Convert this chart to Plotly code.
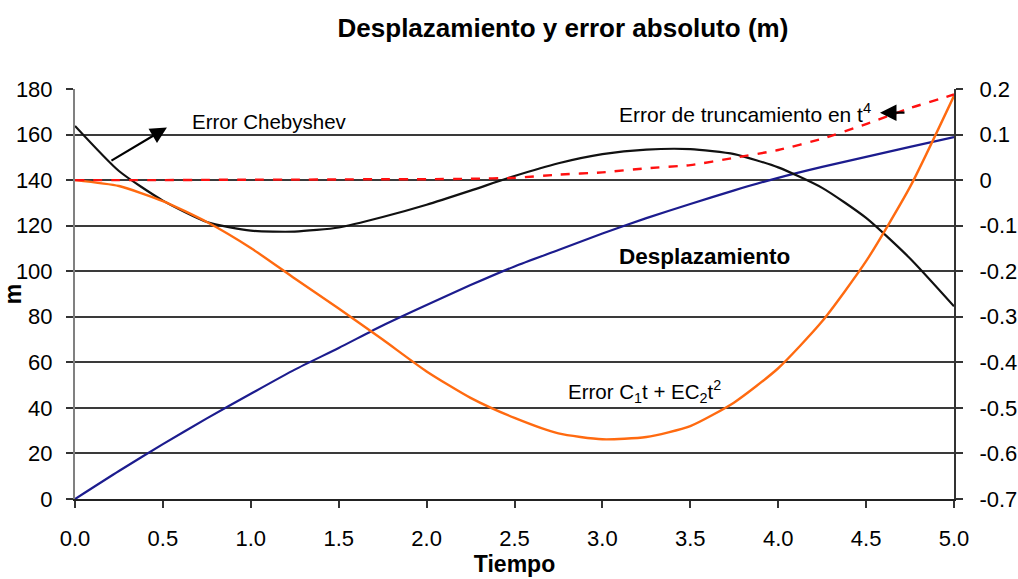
import plotly.graph_objects as go

# ---- data ----
tiempo = [0.0, 0.25, 0.5, 0.75, 1.0, 1.25, 1.5, 1.75, 2.0, 2.25, 2.5,
          2.75, 3.0, 3.25, 3.5, 3.75, 4.0, 4.25, 4.5, 4.75, 5.0]
desplazamiento = [0.0, 12.3, 24.1, 35.4, 46.2, 56.8, 66.3, 76.2, 85.2, 93.9, 102.1,
                  109.3, 116.6, 123.3, 129.5, 135.5, 141.0, 145.8, 150.2, 154.6, 158.9]
error_chebyshev = [0.119, 0.020, -0.045, -0.092, -0.111, -0.113, -0.104, -0.081, -0.054, -0.023, 0.009,
                   0.037, 0.057, 0.067, 0.068, 0.057, 0.028, -0.017, -0.083, -0.172, -0.277]
error_c1c2 = [0.0, -0.013, -0.046, -0.092, -0.149, -0.216, -0.282, -0.350, -0.420, -0.478, -0.522,
              -0.556, -0.569, -0.564, -0.540, -0.488, -0.413, -0.310, -0.178, -0.015, 0.185]
error_trunc = [0.0, 0.0, 0.0, 0.0005, 0.001, 0.001, 0.0015, 0.002, 0.002, 0.003, 0.005,
               0.012, 0.017, 0.026, 0.033, 0.049, 0.066, 0.091, 0.123, 0.158, 0.188]

x_ticks = [0.0, 0.5, 1.0, 1.5, 2.0, 2.5, 3.0, 3.5, 4.0, 4.5, 5.0]
x_ticktext = ["0.0", "0.5", "1.0", "1.5", "2.0", "2.5", "3.0", "3.5", "4.0", "4.5", "5.0"]
y_ticks = [0, 20, 40, 60, 80, 100, 120, 140, 160, 180]
y2_ticks = [-0.7, -0.6, -0.5, -0.4, -0.3, -0.2, -0.1, 0.0, 0.1, 0.2]
y2_ticktext = ["-0.7", "-0.6", "-0.5", "-0.4", "-0.3", "-0.2", "-0.1", "0", "0.1", "0.2"]

FONT = "Liberation Sans, Arial, sans-serif"

fig = go.Figure()
fig.add_trace(go.Scatter(x=tiempo, y=desplazamiento, mode="lines", name="Desplazamiento",
                         line=dict(color="#1c1c8e", width=2.2, shape="spline", smoothing=0.6),
                         yaxis="y"))
fig.add_trace(go.Scatter(x=tiempo, y=error_chebyshev, mode="lines", name="Error Chebyshev",
                         line=dict(color="#111111", width=2.2, shape="spline", smoothing=0.6),
                         yaxis="y2"))
fig.add_trace(go.Scatter(x=tiempo, y=error_c1c2, mode="lines", name="Error C1t + EC2t2",
                         line=dict(color="#ff6a10", width=2.4, shape="spline", smoothing=0.6),
                         yaxis="y2"))
fig.add_trace(go.Scatter(x=tiempo, y=error_trunc, mode="lines", name="Error de truncamiento",
                         line=dict(color="#ff1010", width=2.4, dash="dash", shape="spline", smoothing=0.6),
                         yaxis="y2"))

annotations = [
    dict(x=1.104, y=165.7, xref="x", yref="y", text="Error Chebyshev", showarrow=False,
         font=dict(family=FONT, size=20.5, color="#000000")),
    dict(x=0.523, y=163.1, xref="x", yref="y", text="", showarrow=True,
         ax=-57, ay=34, arrowhead=2, arrowsize=1.5, arrowwidth=2.2, arrowcolor="#000000"),
    dict(x=3.811, y=169.6, xref="x", yref="y", text="Error de truncamiento en t<sup>4</sup>",
         showarrow=False, font=dict(family=FONT, size=21, color="#000000")),
    dict(x=4.579, y=169.6, xref="x", yref="y", text="", showarrow=True,
         ax=26, ay=0, arrowhead=2, arrowsize=1.5, arrowwidth=2.2, arrowcolor="#000000"),
    dict(x=3.578, y=106.4, xref="x", yref="y", text="<b>Desplazamiento</b>", showarrow=False,
         font=dict(family=FONT, size=22.5, color="#000000")),
    dict(x=3.237, y=47.1, xref="x", yref="y",
         text="Error C<sub>1</sub>t + EC<sub>2</sub>t<sup>2</sup>", showarrow=False,
         font=dict(family=FONT, size=20.5, color="#000000")),
]

fig.update_layout(
    width=1018, height=579,
    paper_bgcolor="white", plot_bgcolor="white",
    margin=dict(l=75, r=64, t=89, b=80, autoexpand=False),
    showlegend=False,
    title=dict(text="<b>Desplazamiento y error absoluto (m)</b>", x=0.553, xref="container",
               y=0.9516, yref="container", xanchor="center", yanchor="middle",
               font=dict(family=FONT, size=26, color="#000000")),
    font=dict(family=FONT, size=22, color="#000000"),
    xaxis=dict(range=[0, 5], tickvals=x_ticks, ticktext=x_ticktext, showgrid=False,
               zeroline=False, showline=True, linecolor="#222222", linewidth=2,
               ticks="outside", ticklen=7, tickwidth=1.5, tickcolor="#333333",
               tickfont=dict(family=FONT, size=22), ticklabelstandoff=12, automargin=False,
               title=dict(text="<b>Tiempo</b>", font=dict(family=FONT, size=23), standoff=2)),
    yaxis=dict(range=[0, 180], tickvals=y_ticks, showgrid=True, gridcolor="#3a3a3a", gridwidth=1.5,
               zeroline=False, showline=True, linecolor="#808080", linewidth=2,
               ticks="outside", ticklen=7, tickwidth=1.5, tickcolor="#333333",
               tickfont=dict(family=FONT, size=22), ticklabelstandoff=9, automargin=False,
               title=dict(text="<b>m</b>", font=dict(family=FONT, size=23), standoff=3)),
    yaxis2=dict(range=[-0.7, 0.2], tickvals=y2_ticks, ticktext=y2_ticktext, overlaying="y",
                side="right", showgrid=False, zeroline=False, showline=True, automargin=False,
                linecolor="#333333", linewidth=2, ticks="outside", ticklen=7, tickwidth=1.5,
                tickcolor="#333333", tickfont=dict(family=FONT, size=22), ticklabelstandoff=12),
    annotations=annotations,
)

fig.write_html("out.html", config={"displayModeBar": False},
               post_script="document.body.style.margin='0';document.body.style.overflow='hidden';")
